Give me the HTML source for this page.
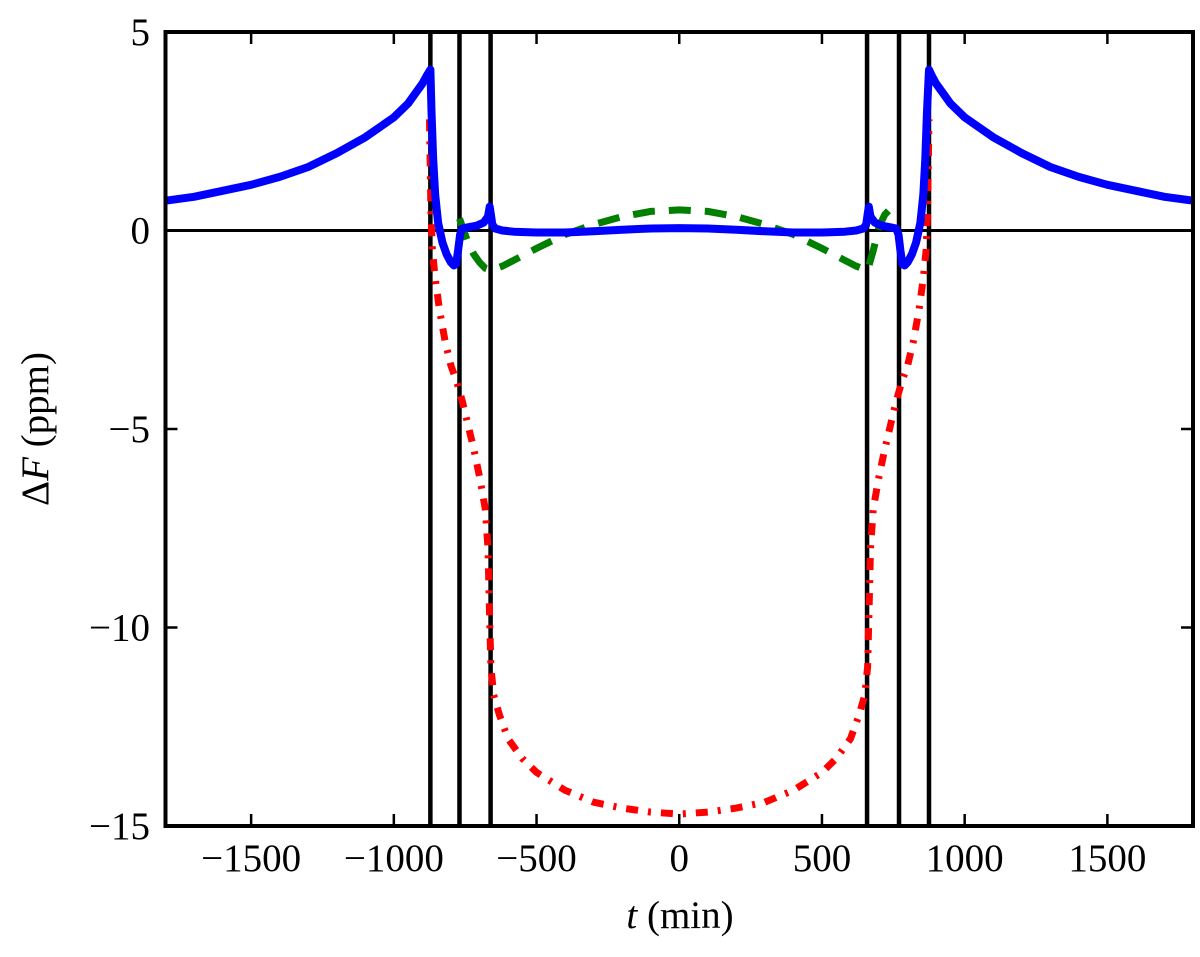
<!DOCTYPE html>
<html><head><meta charset="utf-8"><style>
body{margin:0;background:#fff;}
svg text{font-family:"Liberation Serif",serif;}
</style></head><body>
<svg width="1200" height="952" viewBox="0 0 1200 952">
<defs><clipPath id="cp"><rect x="166" y="32" width="1027" height="794"/></clipPath></defs>
<g id="plot" clip-path="url(#cp)"></g>
<g id="axes"></g>
</svg>
<script>
const xTicks=[-1500,-1000,-500,0,500,1000,1500];
const yTicks=[5,0,-5,-10,-15];
const vLines=[-872,-770,-661,658,770,875];
const blueT=[-1800,-1700,-1600,-1500,-1400,-1300,-1200,-1100,-1000,-950,-920,-900,-885,-872,-868,-862,-855,-845,-830,-815,-800,-790,-782,-775,-768,-760,-740,-710,-685,-670,-664,-660,-655,-645,-620,-580,-500,-400,-300,-200,-100,0,100,200,300,400,500,580,620,645,655,660,664,670,685,710,740,760,768,775,782,790,800,815,830,845,855,862,868,875,885,900,920,950,1000,1100,1200,1300,1400,1500,1600,1700,1800];
const blueV=[0.75,0.85,1.0,1.15,1.35,1.6,1.95,2.35,2.85,3.2,3.5,3.7,3.9,4.05,3.0,1.8,0.9,0.2,-0.3,-0.6,-0.8,-0.88,-0.85,-0.5,-0.1,0.05,0.08,0.12,0.2,0.35,0.6,0.4,0.15,0.05,0.0,-0.03,-0.05,-0.05,-0.02,0.02,0.05,0.06,0.05,0.02,-0.02,-0.05,-0.05,-0.03,0.0,0.05,0.15,0.4,0.6,0.35,0.2,0.12,0.08,0.05,-0.1,-0.5,-0.85,-0.88,-0.8,-0.6,-0.3,0.2,0.9,1.8,3.0,4.05,3.9,3.7,3.5,3.2,2.85,2.35,1.95,1.6,1.35,1.15,1.0,0.85,0.75];
const greenT=[-770,-760,-740,-720,-700,-680,-660,-620,-580,-500,-400,-300,-200,-100,0,100,200,300,400,500,580,620,660,680,700,720,740];
const greenV=[0.3,0.1,-0.3,-0.6,-0.8,-0.95,-1.0,-0.9,-0.75,-0.45,-0.1,0.15,0.35,0.48,0.52,0.48,0.35,0.15,-0.1,-0.45,-0.75,-0.9,-1.0,-0.5,0.1,0.4,0.55];
const redT=[-875,-870,-865,-855,-840,-820,-800,-780,-760,-740,-720,-700,-680,-670,-665,-660,-650,-630,-600,-550,-500,-400,-300,-200,-100,0,100,200,300,400,500,550,600,630,650,660,665,670,680,700,720,740,760,780,800,820,840,855,865,870,875];
const redV=[2.8,0.5,-0.5,-1.2,-2.0,-2.8,-3.4,-3.8,-4.3,-4.9,-5.5,-6.2,-7.0,-8.0,-9.5,-11.0,-11.7,-12.2,-12.8,-13.3,-13.65,-14.1,-14.4,-14.55,-14.65,-14.7,-14.65,-14.55,-14.4,-14.1,-13.65,-13.3,-12.8,-12.2,-11.7,-11.0,-9.5,-8.0,-7.0,-6.2,-5.5,-4.9,-4.3,-3.8,-3.4,-2.8,-2.0,-1.2,-0.5,0.5,2.8];
const X0=165.5,X1=1193,Y0=32,Y1=826;
const sx=t=>X0+(t+1800)/3600*(X1-X0);
const sy=v=>Y0+(5-v)/20*(Y1-Y0);
const NS='http://www.w3.org/2000/svg';
const plot=document.getElementById('plot'),axes=document.getElementById('axes');
function mk(tag,attrs,parent){const e=document.createElementNS(NS,tag);for(const k in attrs)e.setAttribute(k,attrs[k]);parent.appendChild(e);return e;}
function pts(T,V){return T.map((t,i)=>sx(t).toFixed(1)+','+sy(V[i]).toFixed(1)).join(' ');}
let zl=mk('line',{x1:X0,x2:X1,y1:sy(0),y2:sy(0),stroke:'#000','stroke-width':3},plot);


vLines.forEach(t=>{const l=mk('line',{x1:sx(t),x2:sx(t),y1:Y0,y2:Y1,stroke:'#000','stroke-width':4.5},plot);

});
let r=mk('polyline',{points:pts(redT,redV),fill:'none',stroke:'#f00','stroke-width':7,'stroke-dasharray':'12,10,3,10'},plot);


let g=mk('polyline',{points:pts(greenT,greenV),fill:'none',stroke:'#007f00','stroke-width':7,'stroke-dasharray':'22,14'},plot);


let b=mk('polyline',{points:pts(blueT,blueV),fill:'none',stroke:'#0000ff','stroke-width':8,'stroke-linejoin':'round'},plot);


let fr=mk('rect',{x:X0,y:Y0,width:X1-X0,height:Y1-Y0,fill:'none',stroke:'#000','stroke-width':4},axes);


xTicks.forEach(t=>{const x=sx(t);
mk('line',{x1:x,x2:x,y1:Y1,y2:Y1-12,stroke:'#000','stroke-width':2.5},axes);
mk('line',{x1:x,x2:x,y1:Y0,y2:Y0+12,stroke:'#000','stroke-width':2.5},axes);
const tx=mk('text',{x:x,y:871,'text-anchor':'middle','font-size':39},axes);
tx.textContent=(t<0?'\u2212':'')+Math.abs(t);

});
yTicks.forEach(v=>{const y=sy(v);
mk('line',{x1:X0,x2:X0+12,y1:y,y2:y,stroke:'#000','stroke-width':2.5},axes);
mk('line',{x1:X1,x2:X1-12,y1:y,y2:y,stroke:'#000','stroke-width':2.5},axes);
const tx=mk('text',{x:150,y:y+13,'text-anchor':'end','font-size':39},axes);
tx.textContent=(v<0?'\u2212':'')+Math.abs(v);

});
</script>
<svg style="position:absolute;left:0;top:0" width="1200" height="952">
<text x="680" y="928" text-anchor="middle" font-size="39" font-family="Liberation Serif, serif"><tspan font-style="italic">t</tspan> (min)</text>
<text transform="translate(48,429) rotate(-90)" text-anchor="middle" font-size="39" font-family="Liberation Serif, serif">Δ<tspan font-style="italic">F</tspan> (ppm)</text>
</svg>
</body></html>
